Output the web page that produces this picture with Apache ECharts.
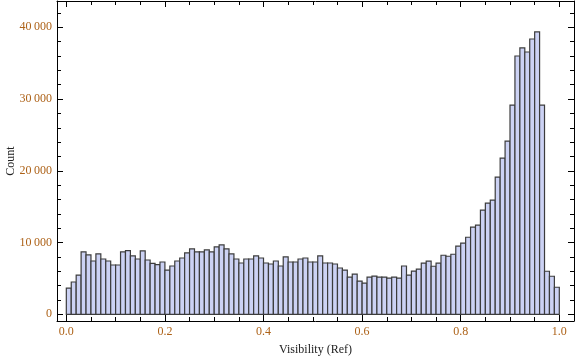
<!DOCTYPE html>
<html>
<head>
<meta charset="utf-8">
<script src="https://cdn.jsdelivr.net/npm/echarts@6/dist/echarts.min.js"></script>
<style>
  html, body { margin: 0; padding: 0; background: #fff; }
  #main { width: 576px; height: 361px; }
</style>
</head>
<body>
<div id="main"></div>
<script>
// histogram: 100 bins of width 0.01 from 0 to 1
var binWidth = 0.01;
var counts = [
  3650, 4500, 5450, 8700, 8270, 7430, 8410, 7710, 7430, 6870,
  6870, 8690, 8880, 8130, 7710, 8830, 7570, 7100, 6920, 7290,
  6170, 6730, 7430, 7850, 8550, 9110, 8690, 8690, 8970, 8690,
  9390, 9670, 9110, 8410, 7710, 7150, 7710, 7710, 8130, 7850,
  7150, 7010, 7430, 6730, 7990, 7290, 7290, 7710, 7850, 7290,
  7290, 8130, 7150, 7150, 7010, 6450, 6170, 5190, 5610, 4620,
  4350, 5180, 5320, 5180, 5180, 5040, 5180, 5040, 6730, 5460,
  6030, 6310, 7120, 7400, 6700, 7120, 8230, 8090, 8370, 9490,
  9910, 10740, 12140, 12420, 14510, 15490, 15910, 19120, 21770, 24140,
  29160, 36000, 37120, 36560, 38370, 39350, 29160, 6000, 5300, 3770
];

var xMajorTicks = [0, 0.2, 0.4, 0.6, 0.8, 1.0];
var xMinorTicks = [0.05, 0.1, 0.15, 0.25, 0.3, 0.35, 0.45, 0.5, 0.55,
                   0.65, 0.7, 0.75, 0.85, 0.9, 0.95];
var yMajorTicks = [0, 10000, 20000, 30000, 40000];
var yMinorTicks = [2000, 4000, 6000, 8000, 12000, 14000, 16000, 18000,
                   22000, 24000, 26000, 28000, 32000, 34000, 36000, 38000, 42000];

var xMin = -0.0189, xMax = 1.0298;
var yMin = -934, yMax = 43666;

var data = counts.map(function (c, i) {
  return [i * binWidth, (i + 1) * binWidth, c];
});

var labelColor = '#ad6218';
var font = 'Liberation Serif';

function xAxisDef(pos, ticks, len, withLine, withLabel) {
  return {
    type: 'value', position: pos, min: xMin, max: xMax,
    axisLine: { show: withLine, onZero: false, lineStyle: { color: '#000', width: 1 } },
    axisTick: { show: true, inside: true, length: len, customValues: ticks,
                lineStyle: { color: '#000', width: 1 } },
    axisLabel: withLabel ? {
      show: true, customValues: ticks, margin: 5, color: labelColor,
      fontFamily: font, fontSize: 12,
      formatter: function (v) { return v.toFixed(1); }
    } : { show: false },
    splitLine: { show: false }
  };
}

function yAxisDef(pos, ticks, len, withLine, withLabel) {
  return {
    type: 'value', position: pos, min: yMin, max: yMax,
    axisLine: { show: withLine, onZero: false, lineStyle: { color: '#000', width: 1 } },
    axisTick: { show: true, inside: true, length: len, customValues: ticks,
                lineStyle: { color: '#000', width: 1 } },
    axisLabel: withLabel ? {
      show: true, customValues: ticks, margin: 5, color: labelColor,
      fontFamily: font, fontSize: 12,
      formatter: function (v) { return v === 0 ? '0' : (v / 1000) + '\u2009000'; }
    } : { show: false },
    splitLine: { show: false }
  };
}

var xAxes = [
  xAxisDef('bottom', xMajorTicks, 6, true, true),
  xAxisDef('bottom', xMinorTicks, 4, false, false),
  xAxisDef('top', xMajorTicks, 6, true, false),
  xAxisDef('top', xMinorTicks, 4, false, false)
];
xAxes[0].name = 'Visibility (Ref)';
xAxes[0].nameLocation = 'middle';
xAxes[0].nameGap = 23;
xAxes[0].nameMoveOverlap = false;
xAxes[0].nameTextStyle = { color: '#222', fontFamily: font, fontSize: 12 };

var yAxes = [
  yAxisDef('left', yMajorTicks, 6, true, true),
  yAxisDef('left', yMinorTicks, 4, false, false),
  yAxisDef('right', yMajorTicks, 6, true, false),
  yAxisDef('right', yMinorTicks, 4, false, false)
];
yAxes[0].name = 'Count';
yAxes[0].nameLocation = 'middle';
yAxes[0].nameGap = 40;
yAxes[0].nameMoveOverlap = false;
yAxes[0].nameTextStyle = { color: '#222', fontFamily: font, fontSize: 12 };

var chart = echarts.init(document.getElementById('main'), null, { renderer: 'canvas' });
chart.setOption({
  animation: false,
  backgroundColor: '#fff',
  grid: { left: 57, right: 2, top: 1, bottom: 40, containLabel: false, outerBoundsMode: 'none' },
  xAxis: xAxes,
  yAxis: yAxes,
  series: [{
    type: 'custom',
    xAxisIndex: 0,
    yAxisIndex: 0,
    data: data,
    renderItem: function (params, api) {
      var p0 = api.coord([api.value(0), api.value(2)]);
      var p1 = api.coord([api.value(1), 0]);
      return {
        type: 'rect',
        shape: { x: p0[0], y: p0[1], width: p1[0] - p0[0], height: p1[1] - p0[1] },
        style: { fill: '#ccd2f4', stroke: '#3c3c3c', lineWidth: 1.2 }
      };
    }
  }]
});
</script>
</body>
</html>
